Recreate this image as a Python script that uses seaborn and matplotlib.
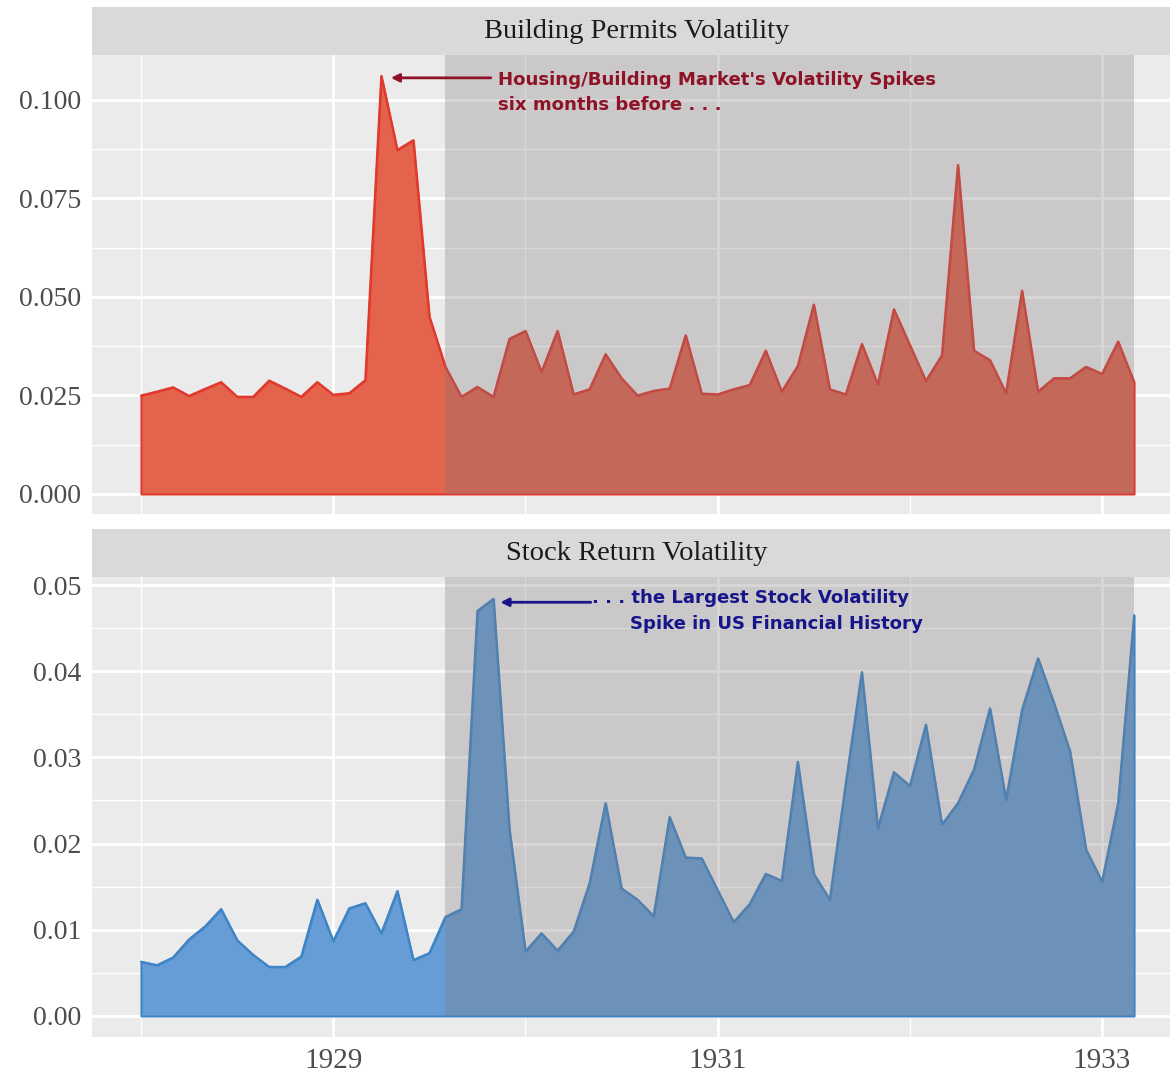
import numpy as np
import pandas as pd
import matplotlib
matplotlib.use("Agg")
import matplotlib.pyplot as plt
import seaborn as sns

# monthly volatility, Jan 1928 .. Mar 1933
months = pd.date_range("1928-01-01", "1933-03-01", freq="MS")
permits_vol = [0.0250, 0.0260, 0.0271, 0.0249, 0.0267, 0.0284, 0.0247, 0.0247, 0.0288, 0.0268,
               0.0247, 0.0284, 0.0252, 0.0256, 0.0289, 0.1061, 0.0873, 0.0898, 0.0450, 0.0323,
               0.0247, 0.0272, 0.0247, 0.0394, 0.0414, 0.0310, 0.0414, 0.0253, 0.0266, 0.0355,
               0.0294, 0.0250, 0.0262, 0.0268, 0.0403, 0.0255, 0.0253, 0.0266, 0.0277, 0.0364,
               0.0260, 0.0325, 0.0481, 0.0266, 0.0253, 0.0381, 0.0278, 0.0469, 0.0378, 0.0287,
               0.0352, 0.0835, 0.0364, 0.0340, 0.0256, 0.0516, 0.0260, 0.0294, 0.0294, 0.0323,
               0.0305, 0.0387, 0.0284]
stock_vol = [0.0063, 0.0059, 0.0068, 0.0089, 0.0104, 0.0124, 0.0088, 0.0071, 0.0057, 0.0057,
             0.0069, 0.0135, 0.0087, 0.0125, 0.0131, 0.0096, 0.0145, 0.0065, 0.0073, 0.0115,
             0.0124, 0.0470, 0.0484, 0.0216, 0.0075, 0.0096, 0.0076, 0.0098, 0.0154, 0.0247,
             0.0148, 0.0135, 0.0116, 0.0231, 0.0184, 0.0183, 0.0146, 0.0109, 0.0130, 0.0165,
             0.0157, 0.0295, 0.0165, 0.0135, 0.0270, 0.0399, 0.0218, 0.0283, 0.0267, 0.0338,
             0.0222, 0.0247, 0.0286, 0.0357, 0.0251, 0.0355, 0.0415, 0.0363, 0.0307, 0.0193,
             0.0156, 0.0247, 0.0465]

recession = ("1929-08-01", "1933-03-01")
panel_titles = ["Building Permits Volatility", "Stock Return Volatility"]
permit_yticks = [0.0, 0.025, 0.05, 0.075, 0.1]
permit_ylabels = ["0.000", "0.025", "0.050", "0.075", "0.100"]
stock_yticks = [0.0, 0.01, 0.02, 0.03, 0.04, 0.05]
stock_ylabels = ["0.00", "0.01", "0.02", "0.03", "0.04", "0.05"]
year_ticks = [1929, 1931, 1933]
year_minor = [1928, 1930, 1932]


def dec_year(d):
    d = pd.to_datetime(d)
    return d.year + (d.month - 1) / 12.0


t = np.array([dec_year(m) for m in months])
rec0, rec1 = dec_year(recession[0]), dec_year(recession[1])

sns.set_theme(style="darkgrid", rc={
    "axes.facecolor": "#EBEBEB",
    "grid.color": "white",
    "axes.edgecolor": "none",
    "xtick.color": "#333333",
    "ytick.color": "#333333",
    "xtick.labelcolor": "#4D4D4D",
    "ytick.labelcolor": "#4D4D4D",
})
plt.rcParams["font.family"] = ["Liberation Serif", "DejaVu Serif"]

W, H = 1170, 1073
fig = plt.figure(figsize=(W / 100, H / 100), dpi=100)


def box(left, top, right, bottom):
    return [left / W, 1 - bottom / H, (right - left) / W, (bottom - top) / H]


x_lo = 1928 - (141 - 92) / 192.2
x_hi = 1928 + (1170 - 141) / 192.2


def draw_panel(panel_box, strip_box, values, title, fill, line, ylim, yticks, ylabels, show_x):
    ax = fig.add_axes(box(*panel_box))
    sax = fig.add_axes(box(*strip_box))
    df = pd.DataFrame({"year": t, "vol": values})
    ax.set_axisbelow(True)
    ax.fill_between(df["year"], 0, df["vol"], facecolor=fill, edgecolor=line, lw=1.5, zorder=2)
    sns.lineplot(data=df, x="year", y="vol", ax=ax, color=line, lw=1.5, zorder=3)
    # recession shading from zero up to the top of the panel
    ax.axvspan(rec0, rec1, ymin=-ylim[0] / (ylim[1] - ylim[0]), ymax=1,
               color="#7F7A7B", alpha=0.3, lw=0, zorder=4)
    ax.set_xlim(x_lo, x_hi)
    ax.set_ylim(*ylim)
    ax.set_xticks(year_ticks)
    ax.set_xticks(year_minor, minor=True)
    ax.set_yticks(yticks)
    ax.set_yticklabels(ylabels)
    ax.set_yticks([(a + b) / 2 for a, b in zip(yticks[:-1], yticks[1:])], minor=True)
    ax.grid(which="major", color="white", lw=2.0)
    ax.grid(which="minor", color="white", lw=1.0)
    ax.tick_params(which="minor", length=0)
    ax.tick_params(axis="y", which="major", length=5, width=1.5, pad=3, labelsize=20)
    if show_x:
        ax.tick_params(axis="x", which="major", length=5, width=1.5, pad=3, labelsize=21)
        ax.set_xticklabels([str(y) for y in year_ticks])
    else:
        ax.tick_params(axis="x", which="major", length=0, labelbottom=False)
    ax.set_xlabel("")
    ax.set_ylabel("")
    for s in ax.spines.values():
        s.set_visible(False)
    sax.set_facecolor("#D9D9D9")
    sax.set_xticks([])
    sax.set_yticks([])
    sax.grid(False)
    for s in sax.spines.values():
        s.set_visible(False)
    sax.text(0.505, 0.5, title, ha="center", va="center", fontsize=20.5, color="#1A1A1A",
             transform=sax.transAxes)
    return ax


ax1 = draw_panel((92, 55, 1170, 514), (92, 7, 1170, 55), permits_vol, panel_titles[0],
                 "#E3634D", "#E0392E", (-0.00508, 0.1114), permit_yticks, permit_ylabels, False)
ax2 = draw_panel((92, 577, 1170, 1037), (92, 529, 1170, 577), stock_vol, panel_titles[1],
                 "#669DD6", "#3F85C6", (-0.00244, 0.05093), stock_yticks, stock_ylabels, True)

note_font = dict(fontsize=13.1, fontweight="bold", family="DejaVu Sans",
                 va="center", ha="left", zorder=6)

red_txt = "#8E1326"
ax1.annotate("", xy=(1929.30, 0.1056), xytext=(1929.82, 0.1056),
             arrowprops=dict(arrowstyle="-|>", color=red_txt, lw=2, mutation_scale=12,
                             shrinkA=0, shrinkB=0), zorder=6)
ax1.text(1929.857, 0.1050, "Housing/Building Market's Volatility Spikes", color=red_txt, **note_font)
ax1.text(1929.857, 0.0987, "six months before . . .", color=red_txt, **note_font)

blue_txt = "#16168A"
ax2.annotate("", xy=(1929.87, 0.0480), xytext=(1930.34, 0.0480),
             arrowprops=dict(arrowstyle="-|>", color=blue_txt, lw=2, mutation_scale=12,
                             shrinkA=0, shrinkB=0), zorder=6)
ax2.text(1930.345, 0.0485, ". . . the Largest Stock Volatility", color=blue_txt, **note_font)
ax2.text(1930.544, 0.0455, "Spike in US Financial History", color=blue_txt, **note_font)

fig.savefig("out.png", dpi=100)
